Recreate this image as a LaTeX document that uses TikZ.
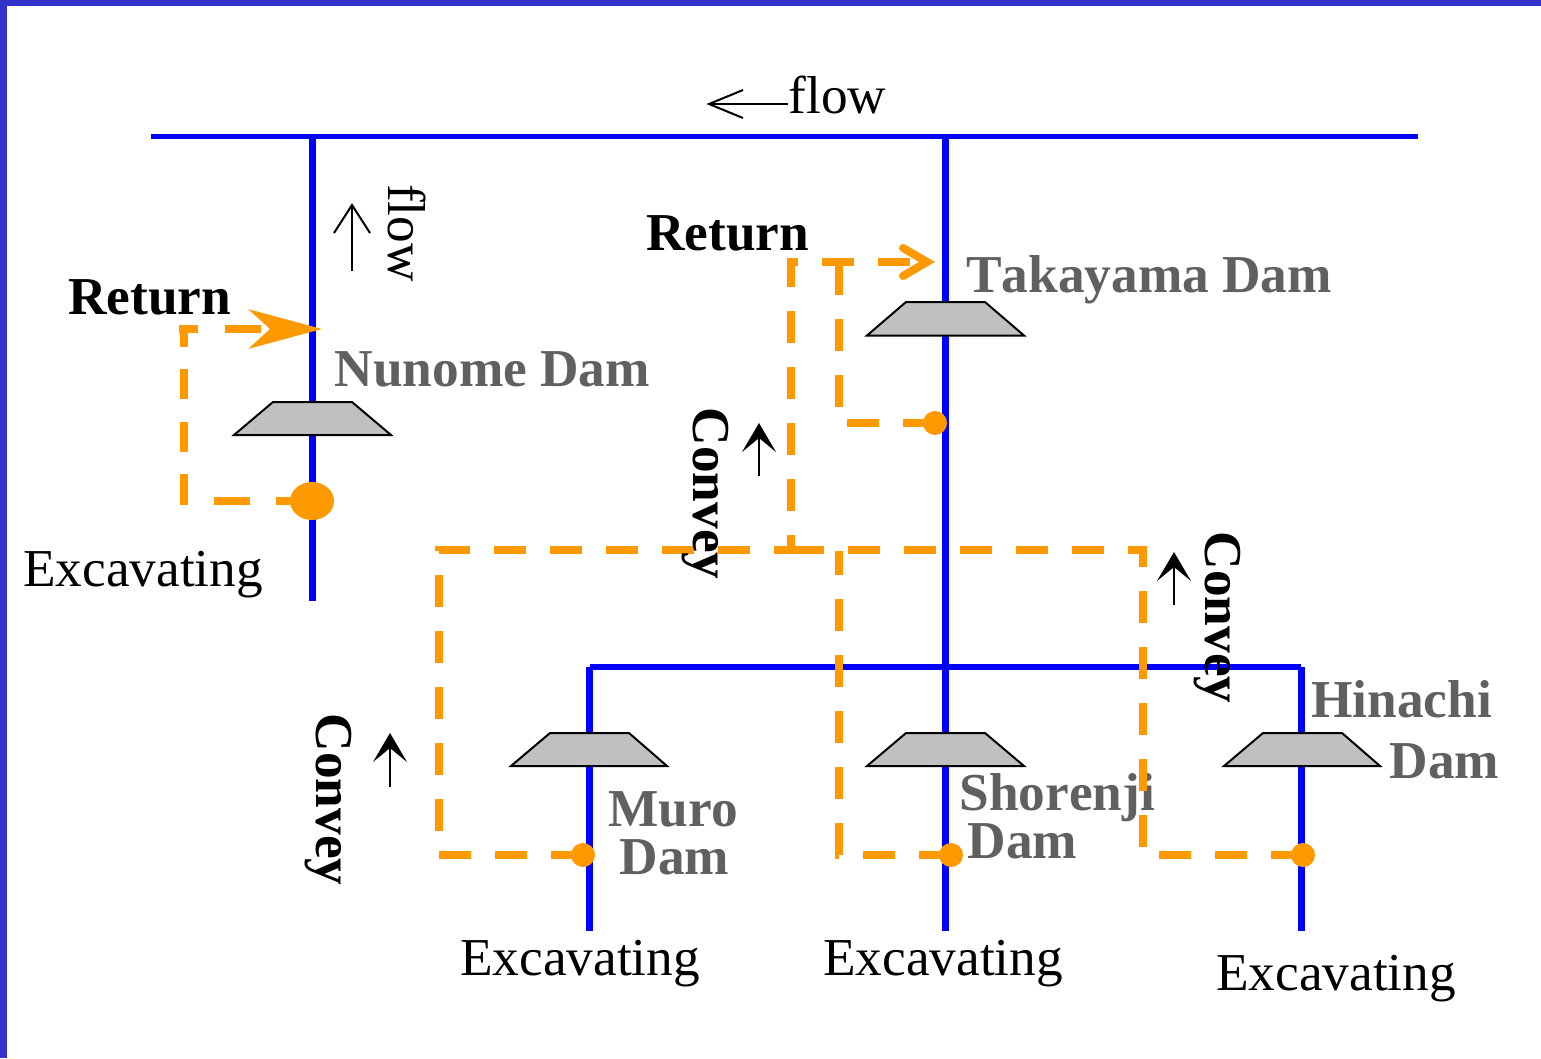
\documentclass[tikz,border=0pt]{standalone}
\usepackage{fontspec}
\setmainfont[Kerning=Off]{Liberation Serif}
\usetikzlibrary{arrows.meta,shapes.geometric}
\definecolor{frameblue}{HTML}{3333CC}
\definecolor{river}{HTML}{0000FF}
\definecolor{route}{HTML}{FF9900}
\definecolor{damgrey}{HTML}{C0C0C0}
\definecolor{damtext}{HTML}{606060}
\tikzset{
  x=1pt,y=-1pt,
  riverline/.style={draw=river,line width=7pt},
  dam/.style={draw=black,fill=damgrey,line width=2pt,line join=miter},
  routeline/.style={draw=route,line width=8pt,dash pattern=on 32pt off 24pt},
  routeball/.style={circle,fill=route,inner sep=0pt,minimum size=24pt},
  label/.style={inner sep=0pt,anchor=base west,font=\fontsize{53.3}{60}\selectfont},
  strong/.style={label,font=\fontsize{53.3}{60}\selectfont\bfseries},
  damname/.style={strong,text=damtext},
  sidelabel/.style={rotate=-90},
  thinarrow/.style={draw=black,line width=2pt},
  convarrow/.style={draw=black,line width=2pt,-{Stealth[length=29pt,width=34pt,inset=14pt]}},
}
\begin{document}
\begin{tikzpicture}
\useasboundingbox (0,0) rectangle (1541,1058);
% frame
\fill[frameblue] (0,0) rectangle (1541,6);
\fill[frameblue] (0,0) rectangle (7,1058);
% river junctions
\coordinate (mainW) at (151,136);
\coordinate (mainE) at (1418,136);
\coordinate (nunT) at (312,136);
\coordinate (nunB) at (312,601);
\coordinate (takT) at (945,136);
\coordinate (takB) at (945,931);
\coordinate (muroT) at (589.5,667);
\coordinate (muroB) at (589.5,931);
\coordinate (hinT) at (1301,667);
\coordinate (hinB) at (1301,931);
\draw[riverline,line width=5pt] (mainW) -- (mainE);
\draw[riverline] (nunT) -- (nunB);
\draw[riverline] (takT) -- (takB);
\draw[riverline] (muroT) -- (muroB);
\draw[riverline] (hinT) -- (hinB);
\draw[riverline,line width=6pt] (muroT) -- (hinT);
% dams
\draw[dam] (234,435) -- (273,402) -- (352,402) -- (391,435) -- cycle;
\draw[dam] (867,335.5) -- (906,302) -- (985,302) -- (1024,335.5) -- cycle;
\draw[dam] (511,766) -- (550,733) -- (629,733) -- (667,766) -- cycle;
\draw[dam] (867,766) -- (906,733) -- (985,733) -- (1024,766) -- cycle;
\draw[dam] (1224,766) -- (1263,733) -- (1342,733) -- (1380,766) -- cycle;
% dam names
\node[damname] (nNunome) at (334.5,386) {Nunome Dam};
\node[damname] (nTaka) at (966,292.5) {Takayama Dam};
\node[damname] (nHin1) at (1311,717) {Hinachi};
\node[damname] (nHin2) at (1389.5,778) {Dam};
\node[damname] (nMuro1) at (608,826) {Muro};
\node[damname] (nMuro2) at (619.5,874) {Dam};
\node[damname] (nSho1) at (959.5,810) {Shorenji};
\node[damname] (nSho2) at (967.5,858) {Dam};
% excavation points
\node[ellipse,fill=route,inner sep=0pt,minimum width=44pt,minimum height=38pt] (ballN) at (312,501) {};
\node[routeball] (ballT) at (935,423) {};
\node[routeball] (ballM) at (583,855) {};
\node[routeball] (ballS) at (951,855) {};
\node[routeball] (ballH) at (1303,855) {};
% route corners
\coordinate (junc) at (791,550);
\coordinate (retTop) at (791,262);
\coordinate (retTip) at (927,262);
% Nunome return
\coordinate (nc1) at (184,501);
\coordinate (nc1b) at (184,505);
\coordinate (nc2) at (184,325);
\coordinate (nc2b) at (179,329);
\coordinate (nTip) at (322,329);
\draw[routeline,dash pattern=on 36pt off 26pt] (ballN.center) -- (nc1);
\draw[routeline,dash pattern=on 31pt off 22.5pt on 30pt off 22.5pt on 30pt off 22.5pt on 30pt off 20pt] (nc1b) -- (nc2);
\draw[routeline,dash pattern=on 19pt off 27pt on 36pt off 200pt,-{Stealth[length=73pt,width=39pt,inset=21pt]}] (nc2b) -- (nTip);
% conveying routes
\draw[routeline] (ballM.center) -- (439,855) -- (439,550) -- (junc) -- (retTop) -- (retTip);
\draw[routeline] (ballS.center) -- (839,855) -- (839,551);
\draw[routeline] (ballT.center) -- (839,423) -- (839,262);
\draw[routeline] (ballH.center) -- (1143,855) -- (1143,550) -- (junc);
\draw[draw=route,line width=8pt,line cap=round,line join=miter] (903,248) -- (retTip) -- (903,276);
% black labels
\coordinate (fA) at (788,104); \coordinate (fB) at (709,104);
\draw[thinarrow] (fA) -- (fB);
\draw[thinarrow] (743,90) -- (fB) -- (743,118);
\coordinate (gA) at (352,271); \coordinate (gB) at (352,205);
\draw[thinarrow] (gA) -- (gB);
\draw[thinarrow] (334,233) -- (gB) -- (370,233);
\coordinate (c1A) at (759,476); \coordinate (c1B) at (759,423);
\coordinate (c2A) at (390,787); \coordinate (c2B) at (390,733);
\coordinate (c3A) at (1174,605); \coordinate (c3B) at (1174,552);
\draw[convarrow] (c1A) -- (c1B);
\draw[convarrow] (c2A) -- (c2B);
\draw[convarrow] (c3A) -- (c3B);
\node[label] (lFlowTop) at (788.5,113) {flow};
\node[label,sidelabel] (lFlowSide) at (388,184) {flow};
\node[strong] (lRet1) at (68,314) {Return};
\node[strong] (lRet2) at (646,250) {Return};
\node[strong,sidelabel] (lCon1) at (693.5,407.5) {Convey};
\node[strong,sidelabel] (lCon2) at (316.5,713.5) {Convey};
\node[strong,sidelabel] (lCon3) at (1205,531.5) {Convey};
\node[label] (lEx1) at (23,586) {Excavating};
\node[label] (lEx2) at (460,975) {Excavating};
\node[label] (lEx3) at (823,975) {Excavating};
\node[label] (lEx4) at (1216,990) {Excavating};
\end{tikzpicture}
\end{document}
